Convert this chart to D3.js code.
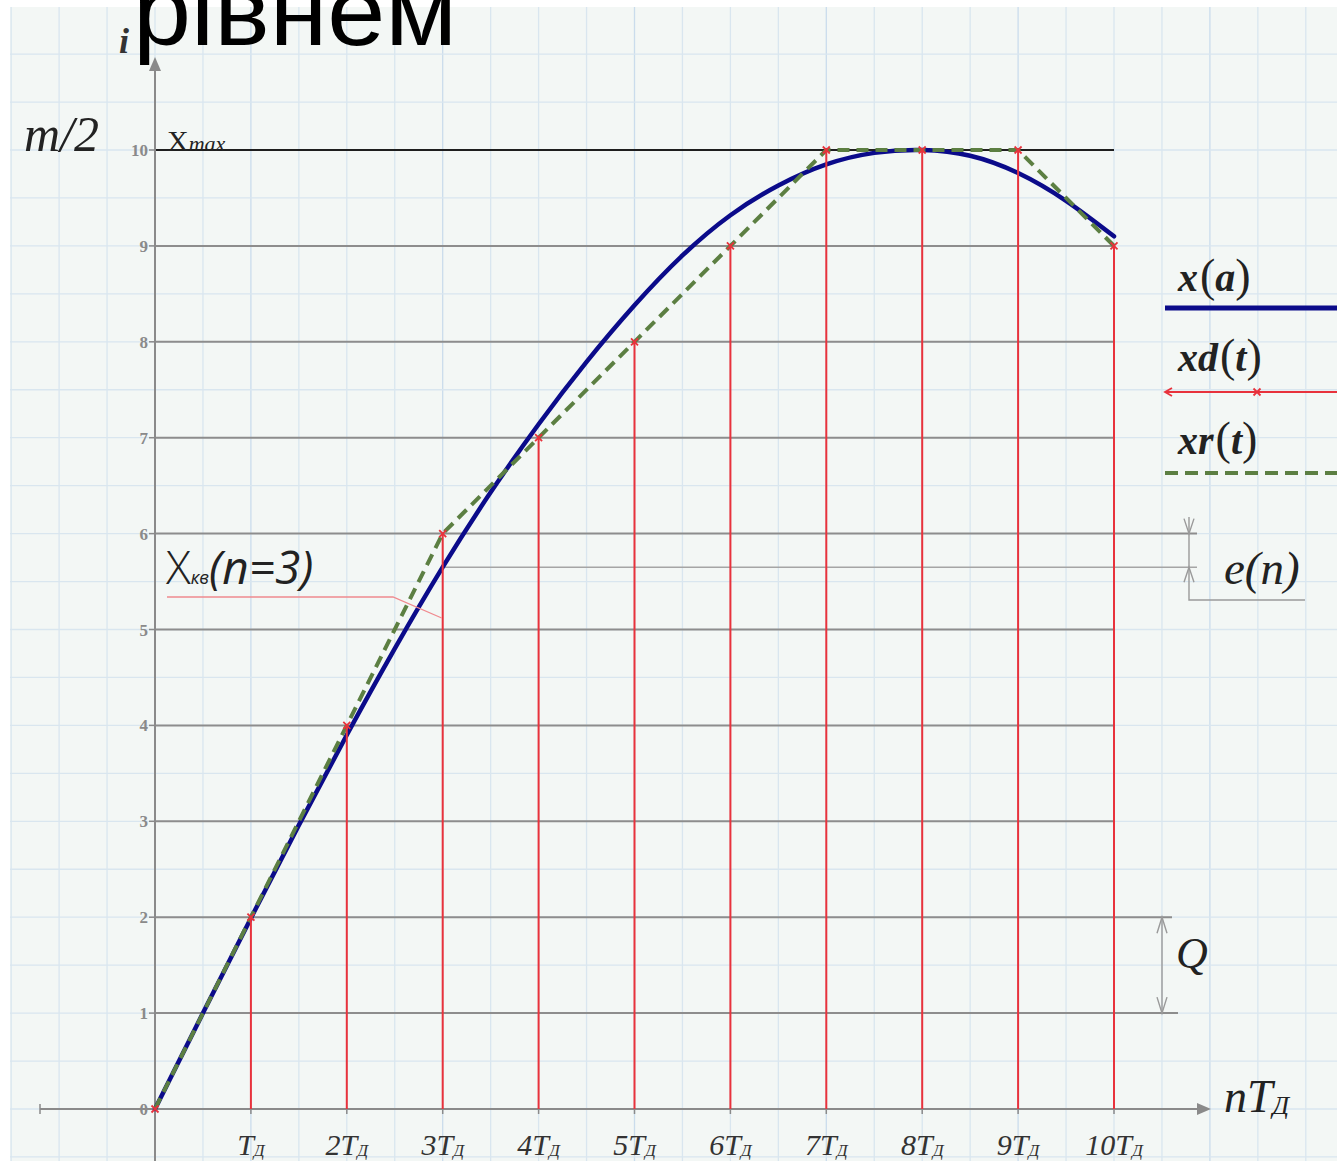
<!DOCTYPE html>
<html>
<head>
<meta charset="utf-8">
<script src="https://cdn.jsdelivr.net/npm/d3@7"></script>
<style>
  html, body { margin: 0; padding: 0; background: #ffffff; }
  svg { display: block; }
</style>
</head>
<body>
<svg id="chart" width="1337" height="1161"></svg>
<script>
// Sampling instants n (in units of T_Д) and quantized levels of the sampled signal
const sampleN = [0, 1, 2, 3, 4, 5, 6, 7, 8, 9, 10];
const quantLevels = [0, 2, 4, 6, 7, 8, 9, 10, 10, 10, 9];

// Continuous signal x(a), read along the time axis every half period
const curveT = [0, 0.5, 1, 1.5, 2, 2.5, 3, 3.5, 4, 4.5, 5, 5.5, 6, 6.5, 7, 7.5, 8, 8.5, 9, 9.5, 10];
const curveX = [0, 1.0, 1.99, 2.96, 3.9, 4.8, 5.65, 6.43, 7.14, 7.79, 8.38, 8.9, 9.32, 9.63, 9.85, 9.97, 10.0, 9.94, 9.76, 9.47, 9.1];

// Axis labels
const yTicks = [0, 1, 2, 3, 4, 5, 6, 7, 8, 9, 10];
const xTickPrefix = ["", "", "2", "3", "4", "5", "6", "7", "8", "9", "10"];
const levelLines = [1, 2, 3, 4, 5, 6, 7, 8, 9];
const maxLevel = 10;

const svg = d3.select("#chart");
const W = 1337, H = 1161;

const x = d3.scaleLinear().domain([0, 10]).range([155, 1114]);
const y = d3.scaleLinear().domain([0, 10]).range([1109, 150]);

const serif = "'Liberation Serif', 'DejaVu Serif', serif";
const sans = "'Liberation Sans', Arial, sans-serif";

// Graph paper
const paper = { x0: 10, y0: 7, x1: W, y1: H };
svg.append("rect")
  .attr("x", paper.x0).attr("y", paper.y0)
  .attr("width", paper.x1 - paper.x0).attr("height", paper.y1 - paper.y0)
  .attr("fill", "#f3f7f5");

const gridG = svg.append("g");
d3.range(-3, 12.6, 0.5).forEach(v => {
  const px = x(v);
  if (px < paper.x0 || px > paper.x1) return;
  gridG.append("line")
    .attr("x1", px).attr("x2", px).attr("y1", paper.y0).attr("y2", paper.y1)
    .attr("stroke", Number.isInteger(v) && v % 2 === 1 ? "#cadcec" : "#d9e6ef")
    .attr("stroke-width", 1.3);
});
d3.range(-1, 11.6, 0.5).forEach(v => {
  const py = y(v);
  if (py < paper.y0 || py > paper.y1) return;
  gridG.append("line")
    .attr("x1", paper.x0).attr("x2", paper.x1).attr("y1", py).attr("y2", py)
    .attr("stroke", "#d9e6ef")
    .attr("stroke-width", 1.3);
});

// Title fragment at the top
svg.append("text")
  .attr("x", 133).attr("y", 45)
  .attr("font-family", sans).attr("font-size", 98)
  .attr("textLength", 324).attr("lengthAdjust", "spacingAndGlyphs")
  .attr("fill", "#000").text("рівнем");

// Quantization levels
const lvlG = svg.append("g");
levelLines.forEach(v => {
  let xEnd = x(10);
  if (v === 1) xEnd = 1178;
  if (v === 2) xEnd = 1172;
  if (v === 6) xEnd = 1197;
  lvlG.append("line")
    .attr("x1", x(0)).attr("x2", xEnd).attr("y1", y(v)).attr("y2", y(v))
    .attr("stroke", "#8d8d8d").attr("stroke-width", 2);
});
// x_max level
lvlG.append("line")
  .attr("x1", x(0)).attr("x2", x(10)).attr("y1", y(maxLevel)).attr("y2", y(maxLevel))
  .attr("stroke", "#1e1e1e").attr("stroke-width", 2.2);

// Reference line for the quantization error at n = 3
const errN = 3;
const errVal = curveX[curveT.indexOf(errN)];
lvlG.append("line")
  .attr("x1", x(errN)).attr("x2", 1197).attr("y1", y(errVal)).attr("y2", y(errVal))
  .attr("stroke", "#a5a5a5").attr("stroke-width", 1.5);

// Axes
const axisColor = "#8a8a8a";
const axG = svg.append("g");
axG.append("line")
  .attr("x1", 40).attr("x2", 1200).attr("y1", y(0)).attr("y2", y(0))
  .attr("stroke", axisColor).attr("stroke-width", 2);
axG.append("line")
  .attr("x1", 40).attr("x2", 40).attr("y1", y(0) - 5).attr("y2", y(0) + 5)
  .attr("stroke", axisColor).attr("stroke-width", 1.5);
axG.append("path")
  .attr("d", `M1211,${y(0)} L1197,${y(0) - 6} L1197,${y(0) + 6} Z`)
  .attr("fill", axisColor);
axG.append("line")
  .attr("x1", x(0)).attr("x2", x(0)).attr("y1", 68).attr("y2", H)
  .attr("stroke", axisColor).attr("stroke-width", 2);
axG.append("path")
  .attr("d", `M${x(0)},57 L${x(0) - 6},71 L${x(0) + 6},71 Z`)
  .attr("fill", axisColor);

// Y tick labels
yTicks.forEach(v => {
  axG.append("line")
    .attr("x1", x(0) - 6).attr("x2", x(0)).attr("y1", y(v)).attr("y2", y(v))
    .attr("stroke", axisColor).attr("stroke-width", 1.5);
  axG.append("text")
    .attr("x", x(0) - 7).attr("y", y(v) + 6)
    .attr("text-anchor", "end")
    .attr("font-family", serif).attr("font-weight", "bold").attr("font-size", 17)
    .attr("fill", "#8a8a8a").text(v);
});

// X tick marks and labels nT_Д
sampleN.forEach((n, i) => {
  axG.append("line")
    .attr("x1", x(n)).attr("x2", x(n)).attr("y1", y(0)).attr("y2", y(0) + 5)
    .attr("stroke", axisColor).attr("stroke-width", 1.5);
  if (n === 0) return;
  const t = axG.append("text")
    .attr("x", x(n)).attr("y", 1155)
    .attr("text-anchor", "middle")
    .attr("font-family", serif).attr("font-style", "italic").attr("font-size", 30)
    .attr("fill", "#333");
  t.append("tspan").text(xTickPrefix[i] + "T");
  t.append("tspan").attr("font-size", 17).attr("dy", 1).text("Д");
});

// Sampled signal xd(t): stems up to the quantized level
const stemColor = "#e8323c";
const stemG = svg.append("g");
sampleN.forEach((n, i) => {
  if (quantLevels[i] > 0) {
    stemG.append("line")
      .attr("x1", x(n)).attr("x2", x(n)).attr("y1", y(0)).attr("y2", y(quantLevels[i]))
      .attr("stroke", stemColor).attr("stroke-width", 2);
  }
});

// Continuous signal x(a)
const lineGen = d3.line().x((d, i) => x(curveT[i])).y(d => y(d)).curve(d3.curveNatural);
svg.append("path")
  .attr("d", lineGen(curveX))
  .attr("fill", "none").attr("stroke", "#0b0b8a").attr("stroke-width", 4.5)
  .attr("stroke-linecap", "round");

// Reconstructed signal xr(t)
const stepGen = d3.line().x((d, i) => x(sampleN[i])).y(d => y(d));
svg.append("path")
  .attr("d", stepGen(quantLevels))
  .attr("fill", "none").attr("stroke", "#5c7f42").attr("stroke-width", 4)
  .attr("stroke-dasharray", "12,7");

// Sample markers
const crossPath = (cx, cy, r) => `M${cx - r},${cy - r}L${cx + r},${cy + r}M${cx - r},${cy + r}L${cx + r},${cy - r}`;
sampleN.forEach((n, i) => {
  stemG.append("path")
    .attr("d", crossPath(x(n), y(quantLevels[i]), 3.5))
    .attr("stroke", stemColor).attr("stroke-width", 1.8).attr("fill", "none");
});
svg.node().appendChild(stemG.node());

// Axis names
svg.append("text")
  .attr("x", 119).attr("y", 53)
  .attr("font-family", serif).attr("font-style", "italic").attr("font-weight", "bold").attr("font-size", 36)
  .attr("fill", "#333").text("i");
svg.append("text")
  .attr("x", 24).attr("y", 151)
  .attr("font-family", serif).attr("font-style", "italic").attr("font-size", 50)
  .attr("fill", "#222").text("m/2");
const xmax = svg.append("text")
  .attr("x", 167).attr("y", 151)
  .attr("font-family", serif).attr("font-size", 30)
  .attr("fill", "#222");
xmax.append("tspan").text("X");
xmax.append("tspan").attr("font-style", "italic").attr("font-size", 22).text("max");

const nT = svg.append("text")
  .attr("x", 1224).attr("y", 1112)
  .attr("font-family", serif).attr("font-style", "italic").attr("font-size", 46)
  .attr("fill", "#222");
nT.append("tspan").text("nT");
nT.append("tspan").attr("font-size", 26).attr("dy", 2).text("Д");

// x_кв(n=3) caption with pointer
const kv = svg.append("text")
  .attr("x", 166).attr("y", 584)
  .attr("font-family", "'Open Sans', 'Noto Sans', sans-serif").attr("font-style", "italic").attr("font-size", 46)
  .attr("fill", "#222");
kv.append("tspan").attr("font-style", "normal").attr("font-weight", 300).text("X");
kv.append("tspan").attr("font-size", 18).text("кв");
kv.append("tspan").text("(n=3)");
svg.append("path")
  .attr("d", `M167,597 L393,597 L${x(errN) - 1},618`)
  .attr("fill", "none").attr("stroke", "#f08a8f").attr("stroke-width", 1.3);

// Dimension marks
const dimColor = "#9a9a9a";
const dimG = svg.append("g").attr("stroke", dimColor).attr("stroke-width", 1.4).attr("fill", "none");
// e(n)
const eX = 1189;
dimG.append("path").attr("d", `M${eX},517 L${eX},600 L1305,600`);
dimG.append("path").attr("d", `M${eX - 5},${y(6) - 15} L${eX},${y(6)} L${eX + 5},${y(6) - 15}`);
dimG.append("path").attr("d", `M${eX - 5},${y(errVal) + 15} L${eX},${y(errVal)} L${eX + 5},${y(errVal) + 15}`);
// Q
const qX = 1162;
dimG.append("line").attr("x1", qX).attr("x2", qX).attr("y1", y(2)).attr("y2", y(1));
dimG.append("path").attr("d", `M${qX - 5},${y(2) + 16} L${qX},${y(2)} L${qX + 5},${y(2) + 16}`);
dimG.append("path").attr("d", `M${qX - 5},${y(1) - 16} L${qX},${y(1)} L${qX + 5},${y(1) - 16}`);

svg.append("text")
  .attr("x", 1224).attr("y", 584)
  .attr("font-family", serif).attr("font-style", "italic").attr("font-size", 47)
  .attr("fill", "#222").text("e(n)");
svg.append("text")
  .attr("x", 1176).attr("y", 968)
  .attr("font-family", serif).attr("font-style", "italic").attr("font-size", 44)
  .attr("fill", "#222").text("Q");

// Legend
const legend = [
  { name: "x", arg: "a", y: 291 },
  { name: "xd", arg: "t", y: 371 },
  { name: "xr", arg: "t", y: 454 }
];
legend.forEach(d => {
  const t = svg.append("text")
    .attr("x", 1178).attr("y", d.y)
    .attr("font-family", serif).attr("font-weight", "bold").attr("font-size", 40)
    .attr("fill", "#222");
  t.append("tspan").attr("font-style", "italic").text(d.name);
  t.append("tspan").attr("font-weight", "normal").attr("font-size", 46).attr("dx", 2).text("(");
  t.append("tspan").attr("font-style", "italic").text(d.arg);
  t.append("tspan").attr("font-weight", "normal").attr("font-size", 46).text(")");
});
svg.append("line")
  .attr("x1", 1165).attr("x2", W).attr("y1", 308).attr("y2", 308)
  .attr("stroke", "#0b0b8a").attr("stroke-width", 5);
svg.append("line")
  .attr("x1", 1165).attr("x2", W).attr("y1", 392).attr("y2", 392)
  .attr("stroke", stemColor).attr("stroke-width", 2);
svg.append("path")
  .attr("d", crossPath(1257, 392, 3.5))
  .attr("stroke", stemColor).attr("stroke-width", 1.8);
svg.append("path")
  .attr("d", "M1172,388 L1165,392 L1172,396")
  .attr("stroke", stemColor).attr("stroke-width", 1.8).attr("fill", "none");
svg.append("line")
  .attr("x1", 1165).attr("x2", W).attr("y1", 473).attr("y2", 473)
  .attr("stroke", "#5c7f42").attr("stroke-width", 4).attr("stroke-dasharray", "13,7");
</script>
</body>
</html>
